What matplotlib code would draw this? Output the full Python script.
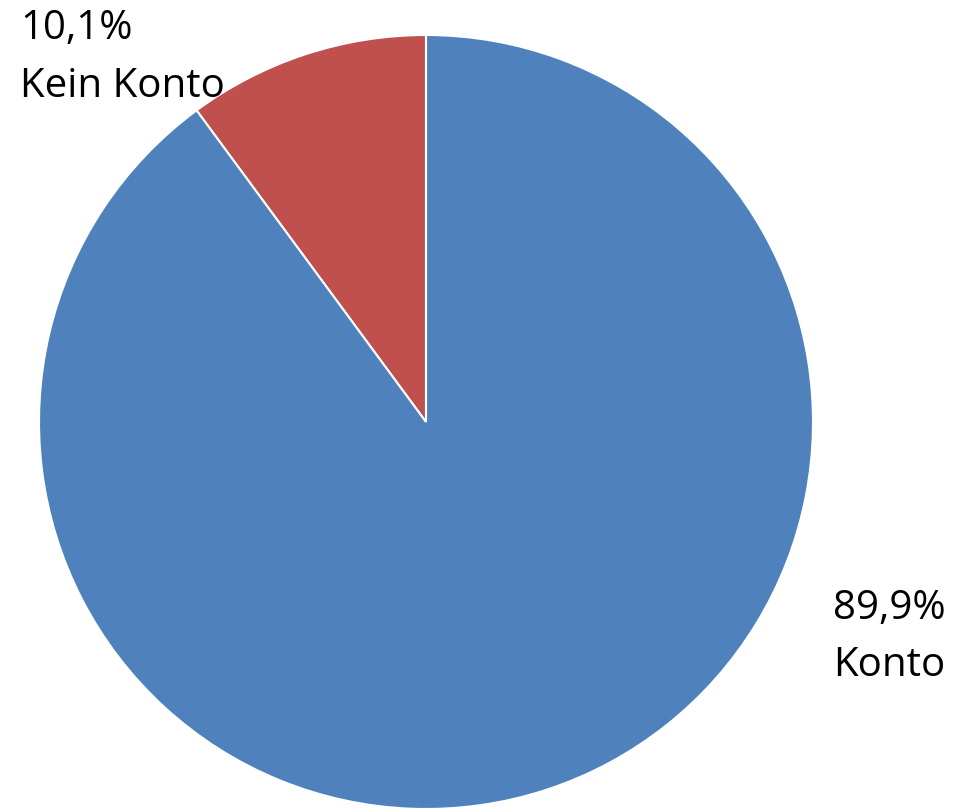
import matplotlib
matplotlib.use("Agg")
import matplotlib.pyplot as plt

categories = ["Kein Konto", "Konto"]
shares = [10.1, 89.9]
colors = ["#C0504D", "#4F81BD"]

W, H = 959, 810
fig = plt.figure(figsize=(W / 100, H / 100), dpi=100)
ax = fig.add_axes([0, 0, 1, 1])

cx, cy, r = 426, 422, 387
ax.pie(shares, colors=colors, startangle=90, counterclock=True,
       radius=1.0, center=(0, 0),
       wedgeprops=dict(edgecolor="white", linewidth=1.5))
ax.set_xlim(-cx / r, (W - cx) / r)
ax.set_ylim(-(H - cy) / r, cy / r)
ax.set_aspect("equal", adjustable="datalim")
ax.axis("off")

font = dict(family=["Open Sans", "DejaVu Sans"], fontsize=29, color="#000000")
labels = [f"{v:.1f}".replace(".", ",") + "%\n" + c for v, c in zip(shares, categories)]
fig.text(20 / W, 1 - 9 / H, labels[0], ha="left", va="top", linespacing=1.55, **font)
fig.text(833 / W, 1 - 588 / H, labels[1], ha="left", va="top", linespacing=1.55, **font)

fig.savefig("out.png", dpi=100)
